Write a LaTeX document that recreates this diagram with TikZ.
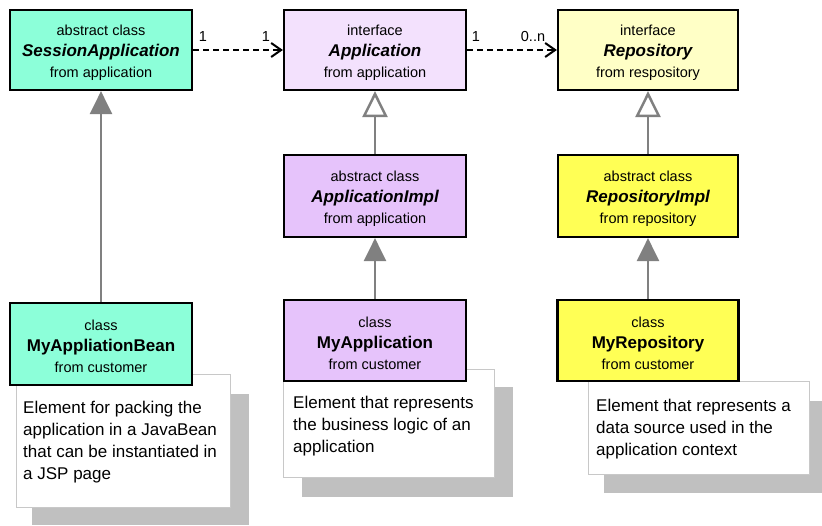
\documentclass[tikz,border=0pt]{standalone}
\usepackage{fontspec}
\setmainfont{Liberation Sans}
\usetikzlibrary{arrows.meta}
\definecolor{aqua}{RGB}{140,255,217}
\definecolor{lavlight}{RGB}{243,225,253}
\definecolor{lav}{RGB}{230,195,251}
\definecolor{yellight}{RGB}{255,255,198}
\definecolor{yel}{RGB}{255,255,85}
\definecolor{linegray}{RGB}{128,128,128}
\definecolor{shadowgray}{RGB}{192,192,192}
\definecolor{notegray}{RGB}{200,200,200}
\tikzset{
  classbox/.style={draw=black, line width=2.2pt, rectangle, inner sep=0pt,
    minimum width=182pt, minimum height=80pt, align=center,
    font=\fontsize{14.5}{21}\selectfont},
  notebox/.style={draw=notegray, line width=1pt, fill=white, rectangle, inner sep=0pt},
  notetext/.style={anchor=north west, inner sep=0pt, align=left,
    font=\fontsize{17}{22}\selectfont},
  mult/.style={inner sep=0pt, font=\fontsize{14.5}{17}\selectfont},
  assoc/.style={line width=2pt, dash pattern=on 6pt off 4pt,
    -{Straight Barb[length=10pt, width=14pt, line width=2pt]}},
  realize/.style={draw=linegray, line width=2.5pt,
    -{Triangle[open, length=26pt, width=25pt, line width=2.5pt, fill=white]}},
  inherit/.style={draw=linegray, line width=2.5pt,
    -{Triangle[length=23pt, width=22pt, fill=linegray]}},
}
% top strut pushes the three lines of a class box slightly downwards
\newcommand{\topstrut}{\rule{0pt}{15.5pt}}
\newcommand{\nm}[1]{{\fontsize{17}{21}\selectfont\bfseries\itshape #1}}
\newcommand{\nb}[1]{{\fontsize{17}{21}\selectfont\bfseries #1}}
\begin{document}
\begin{tikzpicture}[x=1pt, y=-1pt]
\useasboundingbox (0,0) rectangle (822,525);

% note shadows
\fill[shadowgray] (32,394) rectangle (249,525);
\fill[shadowgray] (302,387) rectangle (513,497);
\fill[shadowgray] (604,401) rectangle (822,493);

% notes
\node[notebox, minimum width=214pt, minimum height=133pt] (noteA) at (123,440.5) {};
\node[notebox, minimum width=211pt, minimum height=108pt] (noteB) at (388.5,423) {};
\node[notebox, minimum width=221pt, minimum height=93pt] (noteC) at (698.5,427.5) {};

\node[notetext] (noteAtext) at (23,400.5) {Element for packing the\\application in a JavaBean\\that can be instantiated in\\a JSP page};
\node[notetext] (noteBtext) at (293,395.5) {Element that represents\\the business logic of an\\application};
\node[notetext] (noteCtext) at (596,398.5) {Element that represents a\\data source used in the\\application context};

% classes
\node[classbox, fill=aqua] (sa) at (101,50) {\topstrut abstract class\\\nm{SessionApplication}\\from application};
\node[classbox, fill=lavlight] (app) at (375,50) {\topstrut interface\\\nm{Application}\\from application};
\node[classbox, fill=yellight, minimum width=180pt] (rep) at (648,50) {\topstrut interface\\\nm{Repository}\\from respository};
\node[classbox, fill=lav, minimum height=82pt] (appi) at (375,196) {\topstrut abstract class\\\nm{ApplicationImpl}\\from application};
\node[classbox, fill=yel, minimum width=180pt, minimum height=82pt] (repi) at (648,196) {\topstrut abstract class\\\nm{RepositoryImpl}\\from repository};
\node[classbox, fill=aqua, minimum height=82pt] (bean) at (101,344) {\topstrut class\\\nb{MyAppliationBean}\\from customer};
\node[classbox, fill=lav, minimum height=81pt] (myapp) at (375,340.5) {\topstrut class\\\nb{MyApplication}\\from customer};
\node[classbox, fill=yel, minimum width=181pt, minimum height=81pt] (myrep) at (648,340.5) {\topstrut class\\\nb{MyRepository}\\from customer};

% associations
\draw[assoc] (sa.east) -- (app.west);
\draw[assoc] (app.east) -- (rep.west);
\node[mult] (m1) at (203,37) {1};
\node[mult] (m2) at (266,37) {1};
\node[mult] (m3) at (476,37) {1};
\node[mult] (m4) at (533,37) {0..n};

% realization and inheritance
\draw[realize] (appi.north) -- (app.south);
\draw[realize] (repi.north) -- (rep.south);
\draw[inherit] (myapp.north) -- (appi.south);
\draw[inherit] (myrep.north) -- (repi.south);
\draw[inherit] (bean.north) -- (sa.south);
\end{tikzpicture}
\end{document}
